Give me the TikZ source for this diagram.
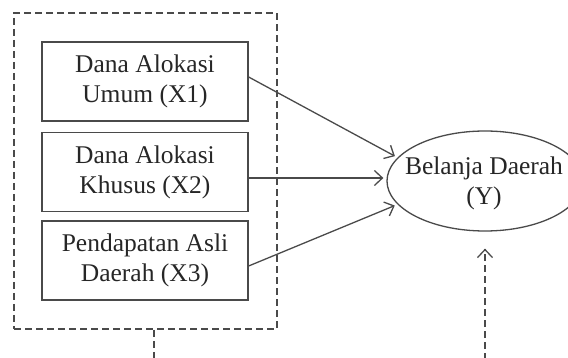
\documentclass[tikz,border=0pt]{standalone}
\usepackage{fontspec}
\setmainfont{Liberation Serif}
\usetikzlibrary{arrows.meta,shapes.geometric}
\definecolor{ln}{HTML}{4A4A4A}
\definecolor{tx}{HTML}{262626}
\tikzset{
  varbox/.style={draw=ln, line width=1.3pt, minimum width=206pt, minimum height=79pt, align=center, text=tx, inner sep=0pt, font=\fontsize{25.5}{30}\selectfont},
  depell/.style={ellipse, draw=ln, line width=1.3pt, minimum width=196pt, minimum height=100pt, inner sep=0pt},
  deptext/.style={align=center, text=tx, inner sep=0pt, font=\fontsize{25.5}{30}\selectfont},
  grp/.style={draw=ln, line width=1.5pt, dash pattern=on 7pt off 4pt, minimum width=263pt, minimum height=316pt, inner sep=0pt},
  arr/.style={draw=ln, line width=1.3pt, -{Straight Barb[length=8pt,width=15pt,line width=1.3pt]}},
  darr/.style={draw=ln, line width=1.5pt, dash pattern=on 7pt off 4pt},
}
\begin{document}
\begin{tikzpicture}[x=1pt,y=-1pt]
\useasboundingbox (0,0) rectangle (568,358);
\node[grp] (g) at (145.5,171) {};
\node[varbox] (b1) at (145,81.5) {Dana Alokasi\\Umum (X1)};
\node[varbox] (b2) at (145,172) {Dana Alokasi\\Khusus (X2)};
\node[varbox] (b3) at (145,260.5) {Pendapatan Asli\\Daerah (X3)};
\node[depell] (y) at (485,181) {};
\node[deptext] (yt) at (484,183) {Belanja Daerah\\(Y)};
\coordinate (gs) at (154,360);
\coordinate (ys) at (485,360);
\draw[arr, shorten >=3pt] ([yshift=4.5pt]b1.east) -- (y.165);
\draw[arr, shorten >=3pt] ([yshift=-6pt]b2.east) -- (y.west |- 0,178);
\draw[arr, shorten >=3pt] ([yshift=-5.5pt]b3.east) -- (y.195);
\draw[darr] (g.south -| gs) -- (gs);
\draw[darr] (ys) -- ([yshift=-17pt]y.south);
\draw[ln, line width=1.3pt, -{Straight Barb[length=8pt,width=15pt,line width=1.3pt]}] ([yshift=-19pt]y.south) -- ([yshift=-17pt]y.south);
\end{tikzpicture}
\end{document}
